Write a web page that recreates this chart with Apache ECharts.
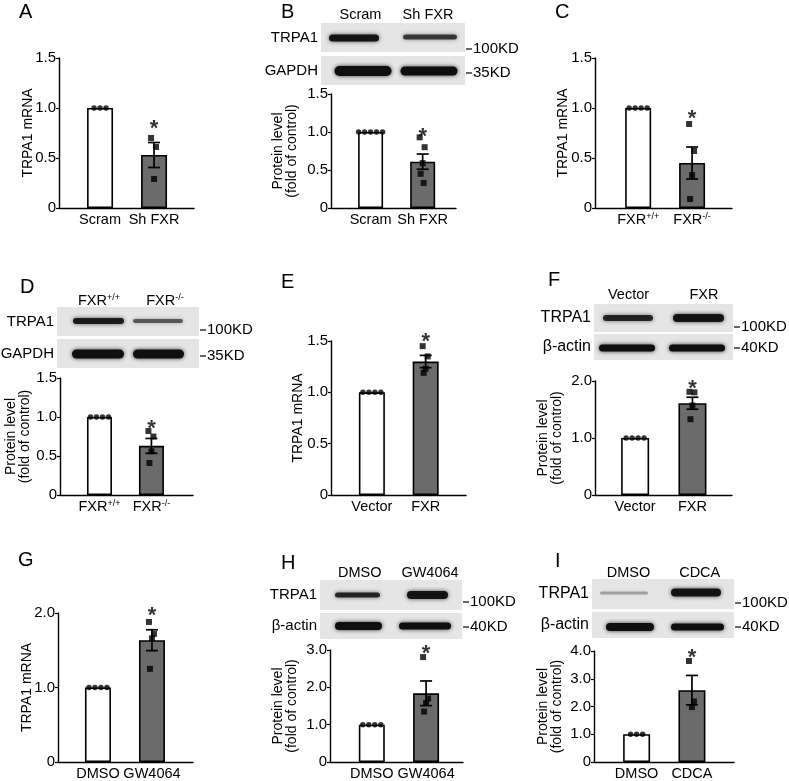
<!DOCTYPE html>
<html><head><meta charset="utf-8">
<script src="https://cdn.jsdelivr.net/npm/echarts@6/dist/echarts.min.js"></script>
<style>html,body{margin:0;padding:0;background:#fff}#c{width:789px;height:781px}</style>
</head><body><div id="c"></div>
<script>
// ---------------- DATA ----------------
const catsA = ['Scram', 'Sh FXR'];
const meanA = [1.00, 0.53];
const semA  = [0, 0.125];
const ctrlA = [1, 1, 1];
const trtA  = [0.70, 0.61, 0.29];
const starA = [0.85];
const yTicksA = [0, 0.5, 1.0, 1.5];

const catsB = ['Scram', 'Sh FXR'];
const meanB = [1.00, 0.61];
const semB  = [0, 0.10];
const ctrlB = [1, 1, 1, 1, 1];
const trtB  = [0.93, 0.80, 0.59, 0.45, 0.33];
const starB = [1.01];
const yTicksB = [0, 0.5, 1.0, 1.5];

const catsC = ['FXR+/+', 'FXR-/-'];
const meanC = [1.00, 0.45];
const semC  = [0, 0.16];
const ctrlC = [1, 1, 1, 1];
const trtC  = [0.84, 0.57, 0.33, 0.09];
const starC = [0.95];
const yTicksC = [0, 0.5, 1.0, 1.5];

const catsD = ['FXR+/+', 'FXR-/-'];
const meanD = [1.00, 0.63];
const semD  = [0, 0.095];
const ctrlD = [1, 1, 1, 1];
const trtD  = [0.82, 0.75, 0.56, 0.41];
const starD = [0.93];
const yTicksD = [0, 0.5, 1.0, 1.5];

const catsE = ['Vector', 'FXR'];
const meanE = [1.00, 1.30];
const semE  = [0, 0.06];
const ctrlE = [1, 1, 1, 1];
const trtE  = [1.45, 1.35, 1.23, 1.19];
const starE = [1.55];
const yTicksE = [0, 0.5, 1.0, 1.5];

const catsF = ['Vector', 'FXR'];
const meanF = [1.00, 1.61];
const semF  = [0, 0.105];
const ctrlF = [1, 1, 1, 1];
const trtF  = [1.81, 1.80, 1.57, 1.33];
const starF = [1.96];
const yTicksF = [0, 1.0, 2.0];

const catsG = ['DMSO', 'GW4064'];
const meanG = [1.00, 1.635];
const semG  = [0, 0.14];
const ctrlG = [1, 1, 1, 1];
const trtG  = [1.88, 1.72, 1.66, 1.25];
const starG = [2.04];
const yTicksG = [0, 1.0, 2.0];

const catsH = ['DMSO', 'GW4064'];
const meanH = [1.00, 1.84];
const semH  = [0, 0.33];
const ctrlH = [1, 1, 1, 1];
const trtH  = [2.81, 1.70, 1.58, 1.35];
const starH = [3.05];
const yTicksH = [0, 1.0, 2.0, 3.0];

const catsI = ['DMSO', 'CDCA'];
const meanI = [1.00, 2.59];
const semI  = [0, 0.53];
const ctrlI = [1, 1, 1];
const trtI  = [3.64, 2.18, 1.98];
const starI = [3.97];
const yTicksI = [0, 1.0, 2.0, 3.0, 4.0];

const yNameMRNA = 'TRPA1 mRNA';
const yNameProt = 'Protein level\n(fold of control)';

// ---------------- LAYOUT / STYLE ----------------
const FONT = '"Liberation Sans", Arial, sans-serif';
const GRAY = '#6b6b6b';

const panels = [
  {letter:'A', lx:19, ly:12, cats:catsA, mean:meanA, sem:semA, ctrl:ctrlA, trt:trtA, star:starA, ticks:yTicksA, yName:yNameMRNA, gap:24,
   grid:{left:59, top:58, width:135, height:150}, xMin:-0.76, xMax:1.74, barW:26},
  {letter:'B', lx:281, ly:12, cats:catsB, mean:meanB, sem:semB, ctrl:ctrlB, trt:trtB, star:starB, ticks:yTicksB, yName:yNameProt, gap:32,
   grid:{left:331, top:94, width:125, height:114}, xMin:-0.76, xMax:1.64, barW:25},
  {letter:'C', lx:555, ly:12, cats:catsC, mean:meanC, sem:semC, ctrl:ctrlC, trt:trtC, star:starC, ticks:yTicksC, yName:yNameMRNA, gap:25,
   grid:{left:595, top:58, width:137, height:150}, xMin:-0.8, xMax:1.74, barW:26},
  {letter:'D', lx:20, ly:287, cats:catsD, mean:meanD, sem:semD, ctrl:ctrlD, trt:trtD, star:starD, ticks:yTicksD, yName:yNameProt, gap:28,
   grid:{left:60, top:378, width:133, height:117}, xMin:-0.76, xMax:1.8, barW:25},
  {letter:'E', lx:281, ly:282, cats:catsE, mean:meanE, sem:semE, ctrl:ctrlE, trt:trtE, star:starE, ticks:yTicksE, yName:yNameMRNA, gap:26,
   grid:{left:331, top:341, width:135, height:154}, xMin:-0.76, xMax:1.75, barW:26},
  {letter:'F', lx:548, ly:280, cats:catsF, mean:meanF, sem:semF, ctrl:ctrlF, trt:trtF, star:starF, ticks:yTicksF, yName:yNameProt, gap:31,
   grid:{left:595, top:381, width:137, height:114}, xMin:-0.7, xMax:1.69, barW:28},
  {letter:'G', lx:18, ly:560, cats:catsG, mean:meanG, sem:semG, ctrl:ctrlG, trt:trtG, star:starG, ticks:yTicksG, yName:yNameMRNA, gap:24,
   grid:{left:58, top:613, width:135, height:150}, xMin:-0.74, xMax:1.76, barW:26},
  {letter:'H', lx:281, ly:563, cats:catsH, mean:meanH, sem:semH, ctrl:ctrlH, trt:trtH, star:starH, ticks:yTicksH, yName:yNameProt, gap:31,
   grid:{left:330, top:650, width:133, height:115}, xMin:-0.77, xMax:1.68, barW:26},
  {letter:'I', lx:555, ly:561, cats:catsI, mean:meanI, sem:semI, ctrl:ctrlI, trt:trtI, star:starI, ticks:yTicksI, yName:yNameProt, gap:30,
   grid:{left:594, top:651, width:140, height:114}, xMin:-0.77, xMax:1.76, barW:27}
];

// western blot layout (images approximated)
const blots = [
  {x0:321, x1:465, lanes:[{t:'Scram',cx:360.5},{t:'Sh FXR',cx:428}], laneY:15, lblFs:15,
   rows:[{label:'TRPA1', y0:23, y1:52, mk:'100KD', mkY:49, bands:[{cx:354,w:50,h:7,a:0.95,cy:38},{cx:430,w:54,h:5,a:0.75,cy:37}]},
         {label:'GAPDH', y0:56, y1:85, mk:'35KD', mkY:73, bands:[{cx:363,w:57,h:10,a:1,cy:71},{cx:429,w:57,h:9,a:1,cy:71}]}]},
  {x0:57, x1:199, lanes:[{t:'FXR+/+',cx:99},{t:'FXR-/-',cx:165}], laneY:301, lblFs:15,
   rows:[{label:'TRPA1', y0:307, y1:336, mk:'100KD', mkY:330, bands:[{cx:98.5,w:51,h:6,a:0.9,cy:321},{cx:158,w:50,h:4,a:0.6,cy:321}]},
         {label:'GAPDH', y0:339, y1:368, mk:'35KD', mkY:356, bands:[{cx:98,w:52,h:9,a:1,cy:354},{cx:158.5,w:51,h:9,a:1,cy:354}]}]},
  {x0:594, x1:733, lanes:[{t:'Vector',cx:628.5},{t:'FXR',cx:704}], laneY:295, lblFs:16,
   rows:[{label:'TRPA1', y0:304, y1:332, mk:'100KD', mkY:327, bands:[{cx:628,w:50,h:6,a:0.85,cy:318},{cx:698.5,w:51,h:8,a:0.95,cy:318}]},
         {label:'β-actin', y0:334, y1:360, mk:'40KD', mkY:348, bands:[{cx:627,w:56,h:7,a:1,cy:348},{cx:697,w:56,h:7,a:1,cy:348}]}]},
  {x0:320, x1:462, lanes:[{t:'DMSO',cx:359.7},{t:'GW4064',cx:430}], laneY:573, lblFs:15,
   rows:[{label:'TRPA1', y0:580, y1:610, mk:'100KD', mkY:602, bands:[{cx:357.5,w:45,h:5,a:0.85,cy:595},{cx:427.5,w:41,h:8,a:0.95,cy:595}]},
         {label:'β-actin', y0:613, y1:639, mk:'40KD', mkY:627, bands:[{cx:358.5,w:47,h:8,a:1,cy:626},{cx:425,w:52,h:7,a:1,cy:626}]}]},
  {x0:592, x1:734, lanes:[{t:'DMSO',cx:628.5},{t:'CDCA',cx:699.7}], laneY:573, lblFs:16,
   rows:[{label:'TRPA1', y0:579, y1:609, mk:'100KD', mkY:603, bands:[{cx:624,w:48,h:3,a:0.3,cy:593},{cx:696,w:50,h:8,a:0.95,cy:592.5}]},
         {label:'β-actin', y0:612, y1:638, mk:'40KD', mkY:627, bands:[{cx:630,w:48,h:8,a:1,cy:627},{cx:697.5,w:53,h:7,a:1,cy:627}]}]}
];

function supLabel(s) {
  const m = /^(.*?)([+\-]\/[+\-])$/.exec(s);
  return m ? '{n|' + m[1] + '}{s|' + m[2] + '}' : '{n|' + s + '}';
}
const richLbl = {
  n: {fontSize: 14.5, fontFamily: FONT, color: '#000'},
  s: {fontSize: 9, fontFamily: FONT, color: '#000', verticalAlign: 'top'}
};

const grids = [], xAxes = [], yAxes = [], series = [], graphics = [];
const jitter = [-3, 2, 0, -2, 1];

panels.forEach((p, i) => {
  grids.push(Object.assign({containLabel: false}, p.grid));
  xAxes.push({
    type: 'value', gridIndex: i, min: p.xMin, max: p.xMax,
    axisLine: {show: true, onZero: false, lineStyle: {color: '#000', width: 1.4}},
    axisTick: {show: false}, splitLine: {show: false},
    axisLabel: {
      customValues: [0, 1], margin: 4, fontSize: 14.5, fontFamily: FONT, color: '#000',
      formatter: v => (Math.abs(v - Math.round(v)) < 1e-6 && v >= 0 && v <= 1) ? supLabel(p.cats[Math.round(v)]) : '',
      rich: richLbl
    }
  });
  const t = p.ticks;
  yAxes.push({
    type: 'value', gridIndex: i, min: t[0], max: t[t.length - 1], interval: t[1] - t[0],
    axisLine: {show: true, onZero: false, lineStyle: {color: '#000', width: 1.4}},
    axisTick: {show: true, length: 3, lineStyle: {color: '#000', width: 1.2}},
    splitLine: {show: false},
    axisLabel: {margin: 3, fontSize: 15, fontFamily: FONT, color: '#000',
      formatter: v => v === 0 ? '0' : v.toFixed(1)},
    name: p.yName, nameLocation: 'middle', nameGap: p.gap, nameMoveOverlap: false,
    nameTextStyle: {fontSize: 14, fontFamily: FONT, color: '#000', lineHeight: 14}
  });
  series.push({
    type: 'bar', xAxisIndex: i, yAxisIndex: i, barWidth: p.barW, z: 2,
    data: p.mean.map((v, j) => ({value: [j, v], itemStyle: {color: j === 0 ? '#fff' : GRAY, borderColor: '#000', borderWidth: 1.6}})),
    silent: true, animation: false
  });
  series.push({
    type: 'custom', xAxisIndex: i, yAxisIndex: i, z: 3, clip: false, animation: false,
    data: p.mean.map((v, j) => [j, v - p.sem[j], v + p.sem[j]]).filter((d, j) => p.sem[j] > 0),
    encode: {x: 0, y: [1, 2]},
    renderItem: (params, api) => {
      const x = api.value(0), lo = api.value(1), hi = api.value(2);
      const a = api.coord([x, hi]), b = api.coord([x, lo]);
      const cw = 6, st = {stroke: '#000', lineWidth: 1.7};
      return {type: 'group', children: [
        {type: 'line', shape: {x1: a[0], y1: a[1], x2: b[0], y2: b[1]}, style: st},
        {type: 'line', shape: {x1: a[0] - cw, y1: a[1], x2: a[0] + cw, y2: a[1]}, style: st},
        {type: 'line', shape: {x1: b[0] - cw, y1: b[1], x2: b[0] + cw, y2: b[1]}, style: st}
      ]};
    }
  });
  series.push({
    type: 'scatter', xAxisIndex: i, yAxisIndex: i, z: 4, clip: false, animation: false,
    symbol: 'circle', symbolSize: 5.5, itemStyle: {color: '#000'},
    data: p.ctrl.map((v, j) => ({value: [0, v], symbolOffset: [(j - (p.ctrl.length - 1) / 2) * 6, 0]}))
  });
  series.push({
    type: 'scatter', xAxisIndex: i, yAxisIndex: i, z: 4, clip: false, animation: false,
    symbol: 'rect', symbolSize: 6, itemStyle: {color: '#000'},
    data: p.trt.map((v, j) => ({value: [1, v], symbolOffset: [jitter[j % jitter.length], 0]}))
  });
  series.push({
    type: 'scatter', xAxisIndex: i, yAxisIndex: i, z: 5, clip: false, animation: false,
    symbolSize: 0, silent: true,
    data: p.star.map(v => [1, v]),
    label: {show: true, position: 'inside', formatter: '*', fontSize: 22, fontWeight: 'bold', fontFamily: FONT, color: '#000', offset: [0, 6]}
  });
  graphics.push({type: 'text', x: p.lx, y: p.ly,
    style: {text: p.letter, fontSize: 20, fontFamily: FONT, fill: '#000', verticalAlign: 'middle', align: 'left'}});
});

blots.forEach(b => {
  b.lanes.forEach(l => {
    graphics.push({type: 'text', x: l.cx, y: b.laneY,
      style: {text: supLabel(l.t), rich: {n: {fontSize: 14.5, fontFamily: FONT, fill: '#000'}, s: {fontSize: 9, fontFamily: FONT, fill: '#000', verticalAlign: 'top'}},
        align: 'center', verticalAlign: 'middle'}});
  });
  b.rows.forEach(r => {
    graphics.push({type: 'rect', shape: {x: b.x0, y: r.y0, width: b.x1 - b.x0, height: r.y1 - r.y0},
      style: {fill: '#e5e5e5'}, z: 1});
    r.bands.forEach(d => {
      graphics.push({type: 'rect', z: 2,
        shape: {x: d.cx - d.w / 2, y: d.cy - d.h / 2, width: d.w, height: d.h, r: d.h / 2},
        style: {fill: 'rgba(15,15,15,' + d.a + ')', shadowBlur: 4, shadowColor: 'rgba(15,15,15,' + (d.a * 0.8) + ')'}});
    });
    graphics.push({type: 'text', x: b.x0 - 3, y: (r.y0 + r.y1) / 2,
      style: {text: r.label, fontSize: b.lblFs, fontFamily: FONT, fill: '#000', align: 'right', verticalAlign: 'middle'}});
    graphics.push({type: 'line', shape: {x1: b.x1 + 1, y1: r.mkY, x2: b.x1 + 7, y2: r.mkY}, style: {stroke: '#000', lineWidth: 1.2}});
    graphics.push({type: 'text', x: b.x1 + 8, y: r.mkY,
      style: {text: r.mk, fontSize: 15, fontFamily: FONT, fill: '#000', align: 'left', verticalAlign: 'middle'}});
  });
});

const chart = echarts.init(document.getElementById('c'), null, {renderer: 'canvas'});
chart.setOption({
  animation: false,
  backgroundColor: '#fff',
  grid: grids, xAxis: xAxes, yAxis: yAxes, series: series,
  graphic: {elements: graphics}
});
</script>
</body></html>
